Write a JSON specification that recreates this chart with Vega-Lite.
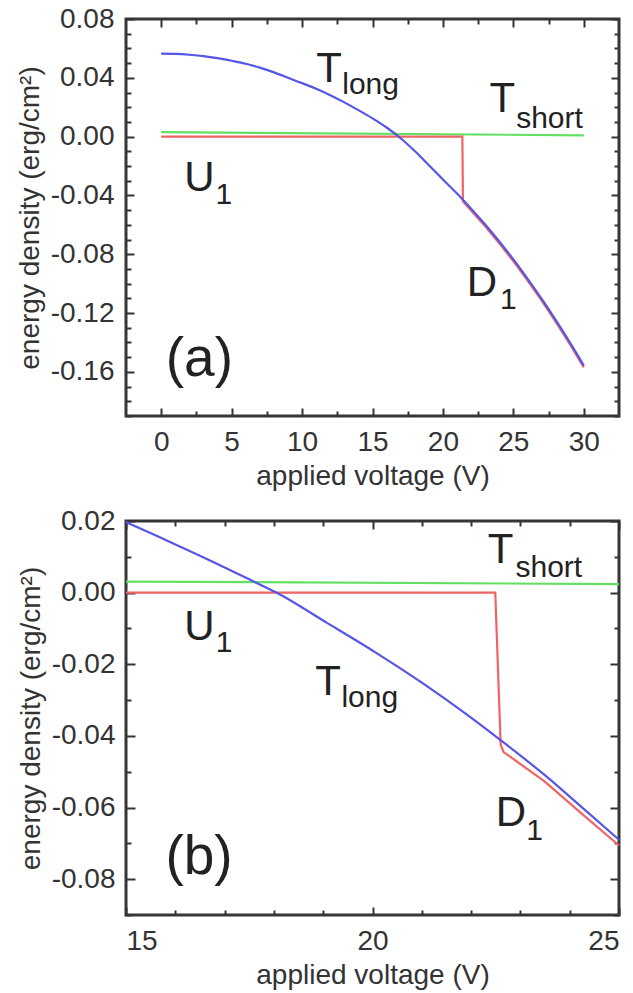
{
  "$schema": "https://vega.github.io/schema/vega-lite/v6.json",
  "padding": {"left": 14, "top": 3, "right": 5, "bottom": 5},
  "background": "white",
  "config": {
    "view": {"stroke": "#363636", "strokeWidth": 3},
    "font": "Liberation Sans",
    "axis": {"domain": false, "grid": false, "labelFont": "Liberation Sans", "labelFontSize": 28, "labelColor": "#333", "titleFont": "Liberation Sans", "titleFontSize": 28, "titleFontWeight": "normal", "titleColor": "#333", "tickColor": "#333", "tickWidth": 2},
    "text": {"font": "Liberation Sans", "color": "#222", "align": "left", "baseline": "alphabetic"}
  },
  "datasets": {
    "curves_a": [
      {"series": "Tshort", "V": 0, "E": 0.003},
      {"series": "Tshort", "V": 30, "E": 0.0009},
      {"series": "U1D1", "V": 0, "E": 0},
      {"series": "U1D1", "V": 21.38, "E": 0},
      {"series": "U1D1", "V": 21.42, "E": -0.044},
      {"series": "U1D1", "V": 22, "E": -0.0502},
      {"series": "U1D1", "V": 23, "E": -0.061},
      {"series": "U1D1", "V": 24, "E": -0.0725},
      {"series": "U1D1", "V": 25, "E": -0.0847},
      {"series": "U1D1", "V": 26, "E": -0.0977},
      {"series": "U1D1", "V": 27, "E": -0.1114},
      {"series": "U1D1", "V": 28, "E": -0.1258},
      {"series": "U1D1", "V": 29, "E": -0.141},
      {"series": "U1D1", "V": 30, "E": -0.1569},
      {"series": "Tlong", "V": 0, "E": 0.0565},
      {"series": "Tlong", "V": 1, "E": 0.0563},
      {"series": "Tlong", "V": 2, "E": 0.0557},
      {"series": "Tlong", "V": 3, "E": 0.0548},
      {"series": "Tlong", "V": 4, "E": 0.0534},
      {"series": "Tlong", "V": 5, "E": 0.0516},
      {"series": "Tlong", "V": 6, "E": 0.0496},
      {"series": "Tlong", "V": 7, "E": 0.0469},
      {"series": "Tlong", "V": 8, "E": 0.0437},
      {"series": "Tlong", "V": 9, "E": 0.0401},
      {"series": "Tlong", "V": 10, "E": 0.0364},
      {"series": "Tlong", "V": 11, "E": 0.0325},
      {"series": "Tlong", "V": 12, "E": 0.0282},
      {"series": "Tlong", "V": 13, "E": 0.0233},
      {"series": "Tlong", "V": 14, "E": 0.018},
      {"series": "Tlong", "V": 15, "E": 0.0124},
      {"series": "Tlong", "V": 16, "E": 0.0062},
      {"series": "Tlong", "V": 17, "E": -0.0011},
      {"series": "Tlong", "V": 18, "E": -0.0098},
      {"series": "Tlong", "V": 19, "E": -0.0194},
      {"series": "Tlong", "V": 20, "E": -0.0291},
      {"series": "Tlong", "V": 21, "E": -0.0387},
      {"series": "Tlong", "V": 22, "E": -0.049},
      {"series": "Tlong", "V": 23, "E": -0.0598},
      {"series": "Tlong", "V": 24, "E": -0.0713},
      {"series": "Tlong", "V": 25, "E": -0.0835},
      {"series": "Tlong", "V": 26, "E": -0.0965},
      {"series": "Tlong", "V": 27, "E": -0.1102},
      {"series": "Tlong", "V": 28, "E": -0.1246},
      {"series": "Tlong", "V": 29, "E": -0.1398},
      {"series": "Tlong", "V": 30, "E": -0.1557}
    ],
    "notes_a": [
      {"kind": "main", "V": 11.0, "E": 0.0369, "label": "T"},
      {"kind": "sub", "V": 12.85, "E": 0.0287, "label": "long"},
      {"kind": "main", "V": 23.3, "E": 0.0165, "label": "T"},
      {"kind": "sub", "V": 25.2, "E": 0.0056, "label": "short"},
      {"kind": "main", "V": 1.63, "E": -0.0368, "label": "U"},
      {"kind": "sub", "V": 3.85, "E": -0.0459, "label": "1"},
      {"kind": "main", "V": 21.7, "E": -0.1083, "label": "D"},
      {"kind": "sub", "V": 24.05, "E": -0.1174, "label": "1"},
      {"kind": "tag", "V": 0.32, "E": -0.1628, "label": "(a)"}
    ],
    "curves_b": [
      {"series": "Tshort", "V": 15, "E": 0.0031},
      {"series": "Tshort", "V": 25, "E": 0.0024},
      {"series": "U1D1", "V": 15, "E": 0},
      {"series": "U1D1", "V": 22.49, "E": 0},
      {"series": "U1D1", "V": 22.6, "E": -0.0425},
      {"series": "U1D1", "V": 22.66, "E": -0.0445},
      {"series": "U1D1", "V": 23.49, "E": -0.0527},
      {"series": "U1D1", "V": 24.22, "E": -0.0614},
      {"series": "U1D1", "V": 25, "E": -0.0706},
      {"series": "Tlong", "V": 15, "E": 0.0197},
      {"series": "Tlong", "V": 15.675, "E": 0.0155},
      {"series": "Tlong", "V": 16.5, "E": 0.0103},
      {"series": "Tlong", "V": 17.59, "E": 0.0031},
      {"series": "Tlong", "V": 18.04, "E": 0.0001},
      {"series": "Tlong", "V": 19.06, "E": -0.0083},
      {"series": "Tlong", "V": 20.05, "E": -0.0166},
      {"series": "Tlong", "V": 21.03, "E": -0.0254},
      {"series": "Tlong", "V": 21.93, "E": -0.0342},
      {"series": "Tlong", "V": 22.59, "E": -0.0411},
      {"series": "Tlong", "V": 23.49, "E": -0.0509},
      {"series": "Tlong", "V": 24.22, "E": -0.0596},
      {"series": "Tlong", "V": 25, "E": -0.069}
    ],
    "notes_b": [
      {"kind": "main", "V": 22.34, "E": 0.0084, "label": "T"},
      {"kind": "sub", "V": 22.9, "E": 0.00425, "label": "short"},
      {"kind": "main", "V": 16.18, "E": -0.0133, "label": "U"},
      {"kind": "sub", "V": 16.82, "E": -0.0166, "label": "1"},
      {"kind": "main", "V": 18.84, "E": -0.0286, "label": "T"},
      {"kind": "sub", "V": 19.37, "E": -0.0319, "label": "long"},
      {"kind": "main", "V": 22.5, "E": -0.0652, "label": "D"},
      {"kind": "sub", "V": 23.12, "E": -0.069, "label": "1"},
      {"kind": "tag", "V": 15.8, "E": -0.0786, "label": "(b)"}
    ]
  },
  "spacing": 105,
  "bounds": "flush",
  "vconcat": [
    {
      "width": 493,
      "height": 397,
      "data": {"name": "curves_a"},
      "layer": [
        {
          "transform": [{"filter": "datum.series === 'Tshort'"}],
          "mark": {"type": "line", "color": "#62e062", "strokeWidth": 2.2},
          "encoding": {
            "x": {"field": "V", "type": "quantitative", "scale": {"domain": [-2.5, 32.5], "nice": false, "zero": false},
              "axis": {"orient": "bottom", "title": "applied voltage (V)", "values": [0, 2.5, 5, 7.5, 10, 12.5, 15, 17.5, 20, 22.5, 25, 27.5, 30],
                "labelExpr": "datum.value % 5 === 0 ? format(datum.value, 'd') : ''",
                "tickSize": {"condition": {"test": "datum.value % 5 === 0", "value": -8}, "value": -5},
                "labelPadding": 20, "titlePadding": 6}},
            "y": {"field": "E", "type": "quantitative", "scale": {"domain": [-0.19, 0.08], "nice": false, "zero": false},
              "axis": {"orient": "left", "title": "energy density (erg/cm²)", "values": [-0.19, -0.18, -0.17, -0.16, -0.15, -0.14, -0.13, -0.12, -0.11, -0.1, -0.09, -0.08, -0.07, -0.06, -0.05, -0.04, -0.03, -0.02, -0.01, 0, 0.01, 0.02, 0.03, 0.04, 0.05, 0.06, 0.07, 0.08],
                "labelExpr": "abs(round(datum.value * 100)) % 4 === 0 ? (datum.value < 0 ? '-' : '') + format(abs(datum.value), '.2f') : ''",
                "tickSize": {"condition": {"test": "abs(round(datum.value * 100)) % 4 === 0", "value": -8}, "value": -5},
                "labelPadding": 20, "titlePadding": 6}}
          }
        },
        {
          "transform": [{"filter": "datum.series === 'U1D1'"}],
          "mark": {"type": "line", "color": "#f06464", "strokeWidth": 2.2},
          "encoding": {
            "x": {"field": "V", "type": "quantitative", "scale": {"domain": [-2.5, 32.5], "nice": false, "zero": false},
              "axis": {"orient": "top", "title": null, "labels": false, "values": [0, 2.5, 5, 7.5, 10, 12.5, 15, 17.5, 20, 22.5, 25, 27.5, 30],
                "tickSize": {"condition": {"test": "datum.value % 5 === 0", "value": -8}, "value": -5}}},
            "y": {"field": "E", "type": "quantitative", "scale": {"domain": [-0.19, 0.08], "nice": false, "zero": false},
              "axis": {"orient": "right", "title": null, "labels": false, "values": [-0.19, -0.18, -0.17, -0.16, -0.15, -0.14, -0.13, -0.12, -0.11, -0.1, -0.09, -0.08, -0.07, -0.06, -0.05, -0.04, -0.03, -0.02, -0.01, 0, 0.01, 0.02, 0.03, 0.04, 0.05, 0.06, 0.07, 0.08],
                "tickSize": {"condition": {"test": "abs(round(datum.value * 100)) % 4 === 0", "value": -8}, "value": -5}}}
          }
        },
        {
          "transform": [{"filter": "datum.series === 'Tlong'"}],
          "mark": {"type": "line", "color": "#5656e6", "strokeWidth": 2.2, "interpolate": "monotone"},
          "encoding": {
            "x": {"field": "V", "type": "quantitative", "axis": null},
            "y": {"field": "E", "type": "quantitative", "axis": null}
          }
        },
        {
          "data": {"name": "notes_a"},
          "transform": [{"filter": "datum.kind === 'main'"}],
          "mark": {"type": "text", "fontSize": 42},
          "encoding": {
            "x": {"field": "V", "type": "quantitative", "axis": null},
            "y": {"field": "E", "type": "quantitative", "axis": null},
            "text": {"field": "label"}
          }
        },
        {
          "data": {"name": "notes_a"},
          "transform": [{"filter": "datum.kind === 'sub'"}],
          "mark": {"type": "text", "fontSize": 30},
          "encoding": {
            "x": {"field": "V", "type": "quantitative", "axis": null},
            "y": {"field": "E", "type": "quantitative", "axis": null},
            "text": {"field": "label"}
          }
        },
        {
          "data": {"name": "notes_a"},
          "transform": [{"filter": "datum.kind === 'tag'"}],
          "mark": {"type": "text", "fontSize": 55},
          "encoding": {
            "x": {"field": "V", "type": "quantitative", "axis": null},
            "y": {"field": "E", "type": "quantitative", "axis": null},
            "text": {"field": "label"}
          }
        }
      ],
      "resolve": {"axis": {"x": "independent", "y": "independent"}}
    },
    {
      "width": 493,
      "height": 394,
      "data": {"name": "curves_b"},
      "layer": [
        {
          "transform": [{"filter": "datum.series === 'Tshort'"}],
          "mark": {"type": "line", "color": "#62e062", "strokeWidth": 2.2},
          "encoding": {
            "x": {"field": "V", "type": "quantitative", "scale": {"domain": [15, 25], "nice": false, "zero": false},
              "axis": {"orient": "bottom", "title": "applied voltage (V)", "values": [15, 16, 17, 18, 19, 20, 21, 22, 23, 24, 25],
                "labelExpr": "datum.value % 5 === 0 ? format(datum.value, 'd') : ''",
                "tickSize": {"condition": {"test": "datum.value % 5 === 0", "value": -8}, "value": -5},
                "labelPadding": 20, "titlePadding": 6}},
            "y": {"field": "E", "type": "quantitative", "scale": {"domain": [-0.09, 0.02], "nice": false, "zero": false},
              "axis": {"orient": "left", "title": "energy density (erg/cm²)", "values": [-0.09, -0.08, -0.07, -0.06, -0.05, -0.04, -0.03, -0.02, -0.01, 0, 0.01, 0.02],
                "labelExpr": "abs(round(datum.value * 100)) % 2 === 0 ? (datum.value < 0 ? '-' : '') + format(abs(datum.value), '.2f') : ''",
                "tickSize": {"condition": {"test": "abs(round(datum.value * 100)) % 2 === 0", "value": -9}, "value": -5},
                "labelPadding": 20, "titlePadding": 6}}
          }
        },
        {
          "transform": [{"filter": "datum.series === 'U1D1'"}],
          "mark": {"type": "line", "color": "#f06464", "strokeWidth": 2.2},
          "encoding": {
            "x": {"field": "V", "type": "quantitative", "scale": {"domain": [15, 25], "nice": false, "zero": false},
              "axis": {"orient": "top", "title": null, "labels": false, "values": [15, 16, 17, 18, 19, 20, 21, 22, 23, 24, 25],
                "tickSize": {"condition": {"test": "datum.value % 5 === 0", "value": -8}, "value": -5}}},
            "y": {"field": "E", "type": "quantitative", "scale": {"domain": [-0.09, 0.02], "nice": false, "zero": false},
              "axis": {"orient": "right", "title": null, "labels": false, "values": [-0.09, -0.08, -0.07, -0.06, -0.05, -0.04, -0.03, -0.02, -0.01, 0, 0.01, 0.02],
                "tickSize": {"condition": {"test": "abs(round(datum.value * 100)) % 2 === 0", "value": -9}, "value": -5}}}
          }
        },
        {
          "transform": [{"filter": "datum.series === 'Tlong'"}],
          "mark": {"type": "line", "color": "#5656e6", "strokeWidth": 2.2, "interpolate": "monotone"},
          "encoding": {
            "x": {"field": "V", "type": "quantitative", "axis": null},
            "y": {"field": "E", "type": "quantitative", "axis": null}
          }
        },
        {
          "data": {"name": "notes_b"},
          "transform": [{"filter": "datum.kind === 'main'"}],
          "mark": {"type": "text", "fontSize": 42},
          "encoding": {
            "x": {"field": "V", "type": "quantitative", "axis": null},
            "y": {"field": "E", "type": "quantitative", "axis": null},
            "text": {"field": "label"}
          }
        },
        {
          "data": {"name": "notes_b"},
          "transform": [{"filter": "datum.kind === 'sub'"}],
          "mark": {"type": "text", "fontSize": 30},
          "encoding": {
            "x": {"field": "V", "type": "quantitative", "axis": null},
            "y": {"field": "E", "type": "quantitative", "axis": null},
            "text": {"field": "label"}
          }
        },
        {
          "data": {"name": "notes_b"},
          "transform": [{"filter": "datum.kind === 'tag'"}],
          "mark": {"type": "text", "fontSize": 55},
          "encoding": {
            "x": {"field": "V", "type": "quantitative", "axis": null},
            "y": {"field": "E", "type": "quantitative", "axis": null},
            "text": {"field": "label"}
          }
        }
      ],
      "resolve": {"axis": {"x": "independent", "y": "independent"}}
    }
  ]
}
